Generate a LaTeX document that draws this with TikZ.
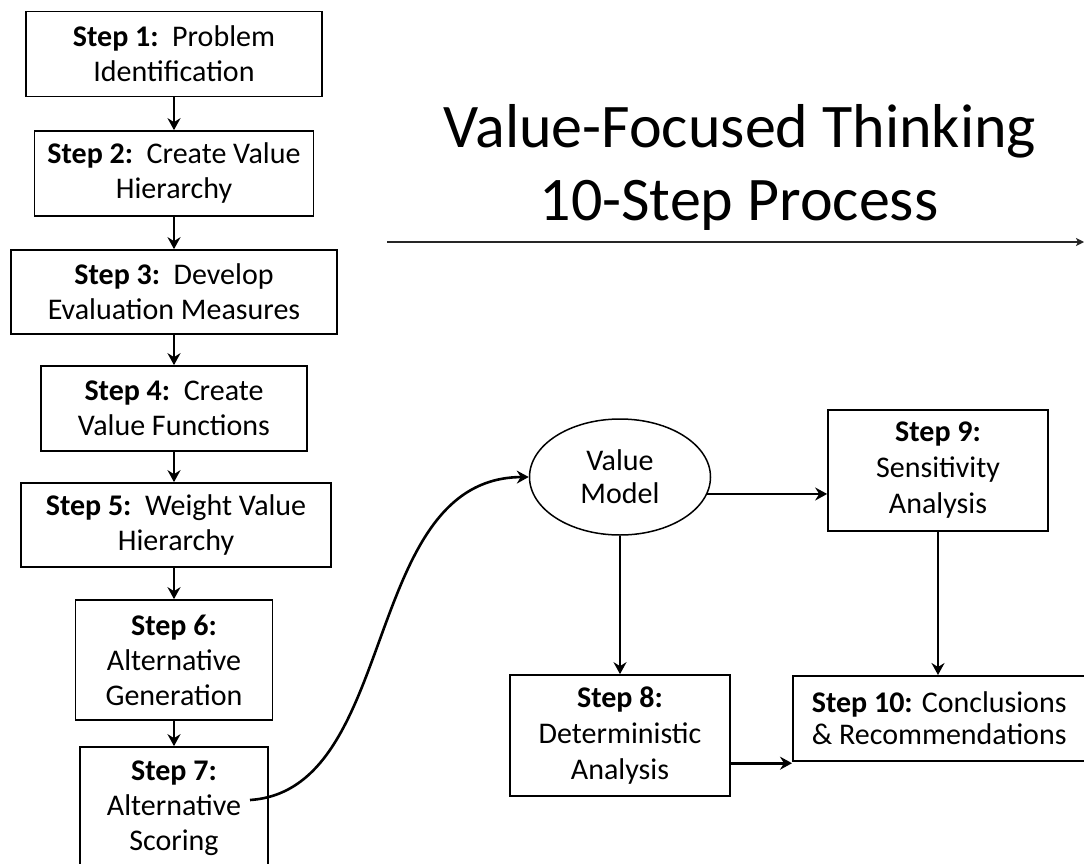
\documentclass[tikz,border=0pt]{standalone}
\usepackage{fontspec}
\setmainfont{Carlito}
\usetikzlibrary{shapes.geometric,arrows.meta}
\begin{document}
\begin{tikzpicture}[x=1pt,y=-1pt,
  box/.style={draw=black,line width=1.7pt,rectangle,align=center,inner sep=0pt,
    font=\fontsize{30}{35}\selectfont},
  rbox/.style={box,font=\fontsize{30}{36}\selectfont},
  conn/.style={line width=2.6pt,-{Stealth[length=12pt,width=13pt,inset=4pt]}},
  titlefont/.style={font=\fontsize{62}{73}\selectfont,inner sep=0pt,anchor=base},
]
\useasboundingbox (0,0) rectangle (1084,864);
\fill[white] (0,0) rectangle (1084,864);

% left column
\node[box,minimum width=296,minimum height=85] (s1) at (174,54) {\textbf{Step 1:}\ \ Problem\\Identification};
\node[box,minimum width=279,minimum height=85] (s2) at (174,173.5) {\textbf{Step 2:}\ \ Create Value\\Hierarchy};
\node[box,minimum width=326,minimum height=84] (s3) at (174,292) {\textbf{Step 3:}\ \ Develop\\Evaluation Measures};
\node[box,minimum width=266,minimum height=85] (s4) at (174,408.5) {\textbf{Step 4:}\ \ Create\\Value Functions};
\node[box,minimum width=310,minimum height=84] (s5) at (176,525) {\textbf{Step 5:}\ \ Weight Value\\Hierarchy};
\node[box,minimum width=197,minimum height=120] (s6) at (174,660) {\textbf{Step 6:}\\Alternative\\Generation};
\node[box,minimum width=188,minimum height=122] (s7) at (174,808) {\textbf{Step 7:}\\Alternative\\Scoring};

\draw[conn] (s1) -- (s2);
\draw[conn] (s2) -- (s3);
\draw[conn] (s3) -- (s4);
\draw[conn] (s4) -- (s4 |- s5.north);
\draw[conn] (s5.south -| s4) -- (s6);
\draw[conn] (s6) -- (s7);

% title
\node[titlefont] (t1) at (740,147) {Value-Focused Thinking};
\node[titlefont] (t2) at (739,220) {10-Step Process};
\coordinate (tl) at (387,242);
\coordinate (tr) at (1084,242);
\draw[line width=2pt,draw=black!85,-{Stealth[length=8pt,width=8pt,inset=2pt]}] (tl) -- (tr);

% right part
\node[ellipse,draw=black,line width=1.5pt,minimum width=181,minimum height=116,inner sep=0pt,
  align=center,font=\fontsize{30}{33}\selectfont] (vm) at (620,477) {Value\\Model};
\node[rbox,minimum width=220,minimum height=121] (s9) at (938,470.5) {\textbf{Step 9:}\\Sensitivity\\Analysis};
\node[rbox,minimum width=220,minimum height=121] (s8) at (620,735.5) {\textbf{Step 8:}\\Deterministic\\Analysis};
\node[box,font=\fontsize{30}{32}\selectfont,anchor=north west,align=flush left,text width=290pt,
  inner xsep=19pt,inner ysep=0pt,minimum height=85] (s10) at (792,675)
  {\textbf{Step 10:} Conclusions\\\& Recommendations};

\coordinate (c7) at (250,800);
\draw[conn] (c7) .. controls (400,790) and (360,478) .. (vm.west);
\draw[conn] (vm.-11) -- (vm.-11 -| s9.west);
\draw[conn] (vm.south) -- (s8.north);
\draw[conn] (s9.south) -- (s9.south |- s10.north);
\draw[conn] ([yshift=-1.5pt]s8.east |- s10.south west) -- ([yshift=-1.5pt]s10.south west);
\end{tikzpicture}
\end{document}
